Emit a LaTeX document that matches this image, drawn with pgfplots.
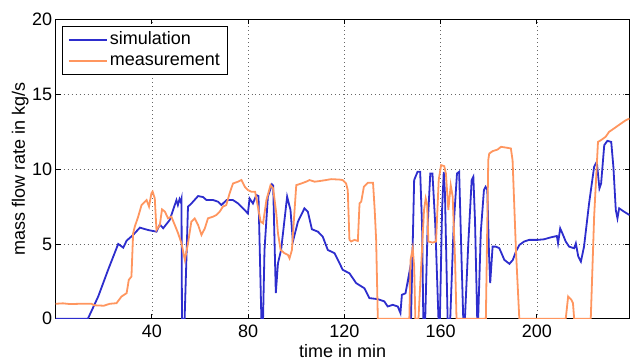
\documentclass[border=0pt]{standalone}
\usepackage{pgfplots}
\pgfplotsset{compat=1.18}
\usepackage{fontspec}
\setmainfont{Liberation Sans}
\definecolor{simblue}{RGB}{45,45,205}
\definecolor{measorange}{RGB}{255,150,95}
\newcommand{\bigf}{\fontsize{18bp}{21bp}\selectfont}
\begin{document}
\begin{tikzpicture}
\begin{axis}[
 at={(0,0)}, anchor=south west,
 scale only axis, width=574.3bp, height=299.5bp,
 xmin=0, xmax=238.5, ymin=0, ymax=20,
 xtick={40,80,...,200}, ytick={0,5,...,20},
 grid=major, major grid style={dash pattern=on 1bp off 3bp, black!60, line width=0.6bp},
 tick align=inside, major tick length=5bp,
 axis line style={line width=0.8bp},
 every tick/.style={black, line width=0.8bp},
 /pgf/number format/assume math mode=true,
 tick label style={font=\bigf},
 label style={font=\bigf},
 xticklabel shift=3bp,
 xlabel={time in min}, ylabel={mass flow rate in kg/s},
 xlabel style={at={(axis description cs:0.5,-0.1309)}, anchor=base},
 ylabel style={at={(axis description cs:-0.0535,0.5)}, anchor=base},
 legend style={at={(axis description cs:0.01045,0.9783)}, anchor=north west, draw=black, line width=0.8bp, fill=white, inner xsep=6bp, inner ysep=3bp, row sep=0pt, column sep=0pt, font=\bigf, nodes={inner sep=2bp, text height=13bp, text depth=4bp}},
 legend cell align=left,
 legend image code/.code={\draw[#1, line width=1.8bp] (0bp,0bp) -- (38bp,0bp);},
]
\addplot[simblue, line width=1.8bp] coordinates {
(0,0) (13.4,0) (17.7,1.49) (21.8,3.27) (26.0,5.0) (28.1,4.75) (29.5,5.22) (32.2,5.6) (35.0,6.09) (38.4,5.93) (41.9,5.82) (43.3,6.3) (44.7,6.05) (47.4,6.6) (50.2,7.93) (50.8,7.6) (51.5,8.0) (52.0,7.8) (52.3,8.0) (52.5,0) (53.6,0) (55.0,7.49) (56.4,7.7) (59.2,8.2) (61.3,8.13) (62.7,7.93) (65.5,7.93) (67.5,7.82) (68.9,7.6) (71.0,7.93) (73.7,7.93) (75.8,7.71) (79.9,7.04) (80.6,8.04) (82.0,7.7) (83.4,8.27) (84.3,8.2) (85.5,0) (86.2,0) (86.8,4.6) (88.2,8.16) (89.9,8.98) (90.4,8.9) (91.5,1.71) (92.4,3.71) (93.7,4.6) (96.2,8.16) (97.6,7.27) (98.6,5.16) (100.7,6.49) (103.4,7.38) (104.8,7.16) (106.5,5.98) (109.0,5.82) (111.0,5.49) (113.1,4.6) (115.9,4.38) (118.0,3.71) (119.3,3.27) (122.1,3.04) (124.9,2.38) (128.3,2.04) (130.4,1.38) (133.9,1.31) (136.6,1.16) (138.0,0.82) (140.1,0.93) (142.2,0.82) (143.3,0.38) (143.9,1.6) (145.4,1.7) (147.0,3.1) (147.7,0) (149.0,9.27) (150.4,9.82) (151.5,9.82) (152.3,6.16) (152.8,0) (153.6,0) (154.6,6.2) (155.7,9.71) (156.6,9.71) (157.8,6.2) (159.1,0) (159.7,0) (160.6,7.27) (161.3,9.82) (161.8,8.38) (162.9,0) (164.0,0) (165.4,6.16) (166.8,9.71) (167.7,9.82) (168.7,3.93) (169.4,0) (170.1,0) (171.5,5.04) (172.9,9.27) (173.6,9.49) (174.3,6.5) (175.2,0) (175.6,0) (176.7,5.8) (178.0,8.6) (178.7,8.82) (179.4,8.6) (180.1,4.38) (180.6,2.38) (181.6,4.82) (183.0,4.82) (184.4,4.71) (186.5,3.93) (188.6,3.67) (190.0,3.93) (191.3,4.49) (192.7,4.93) (194.7,5.16) (196.8,5.27) (200.3,5.27) (203.0,5.31) (205.8,5.44) (208.3,5.53) (208.8,5.04) (209.7,6.04) (210.6,5.71) (212.0,5.16) (213.4,4.82) (215.5,4.71) (216.2,5.04) (217.2,4.16) (218.3,3.82) (219.6,4.82) (221.7,7.71) (223.8,10.16) (224.9,10.49) (226.0,8.71) (226.7,9.04) (228.0,11.6) (229.3,11.89) (230.9,11.82) (231.8,10.16) (232.8,7.27) (233.5,6.71) (234.2,7.38) (236.2,7.16) (238.5,6.93)
};
\addlegendentry{\bigf simulation}
\addplot[measorange, line width=1.8bp] coordinates {
(0,1.0) (3,1.03) (6,0.98) (10,1.0) (14.9,1.0) (16,0.9) (20,0.87) (22.5,1.0) (25.3,1.04) (27.4,1.49) (29.5,1.71) (30.4,2.6) (31.5,2.82) (32.2,5.71) (32.9,6.16) (34.3,6.82) (35.7,7.6) (37.8,7.93) (38.8,7.5) (39.8,8.38) (40.3,8.5) (41.2,8.04) (41.9,5.93) (43.3,6.27) (44.2,7.31) (45.4,7.16) (46.7,6.71) (48.1,6.82) (49.5,6.27) (50.9,5.71) (52.3,5.04) (53.7,3.93) (55.0,5.04) (56.4,6.49) (57.8,6.7) (59.2,6.27) (60.6,5.6) (62.0,6.04) (63.3,6.71) (65.4,6.82) (66.8,6.93) (68.2,7.16) (69.5,7.49) (70.9,7.6) (72.3,8.38) (73.7,9.04) (75.8,9.16) (77.2,9.27) (78.6,8.82) (79.9,8.6) (81.3,8.49) (82.9,8.49) (83.8,7.71) (85.2,6.49) (86.2,6.38) (87.6,7.93) (89.3,8.93) (90.4,8.71) (91.7,7.04) (92.4,5.71) (93.5,4.6) (95.1,4.38) (96.5,4.27) (97.2,4.04) (98.2,4.6) (99.3,7.27) (100.0,8.93) (102.1,9.04) (104.1,9.16) (105.5,9.27) (107.6,9.16) (109.6,9.2) (112.4,9.27) (114.5,9.33) (118.0,9.3) (119.3,9.27) (120.7,9.04) (121.4,8.6) (122.1,5.27) (122.8,5.16) (124.2,5.27) (125.6,5.2) (126.3,7.71) (127.0,7.82) (128.1,8.82) (129.8,9.09) (131.9,9.09) (132.6,7.27) (133.2,5.27) (133.9,0) (147.0,0) (147.5,3.93) (148.4,4.71) (149.0,3.49) (149.5,0) (150.8,0) (153.1,7.27) (153.8,8.04) (154.4,7.6) (154.9,5.16) (156.6,5.09) (158.1,5.16) (159.2,9.27) (160.2,10.27) (161.5,10.2) (162.2,9.7) (163.2,7.27) (164.2,8.93) (165.0,8.16) (166.0,3.93) (166.6,0) (178.8,0) (179.8,10.6) (180.2,11.04) (181.6,11.2) (183.7,11.31) (185.1,11.49) (187.1,11.44) (189.2,11.38) (189.9,10.6) (191.3,4.6) (192.7,0) (212.0,0) (213.0,1.49) (214.3,1.27) (215.0,1.04) (215.5,0) (222.4,0) (223.8,6.82) (225.4,11.82) (226.6,11.93) (228.6,12.16) (230.0,12.49) (232.0,12.71) (234.9,13.04) (237.0,13.27) (238.5,13.38)
};
\addlegendentry{\bigf measurement}
\end{axis}
\pgfresetboundingbox
\path[use as bounding box] (-55.7bp,-42bp) rectangle (574.8bp,319bp);
\end{tikzpicture}
\end{document}
